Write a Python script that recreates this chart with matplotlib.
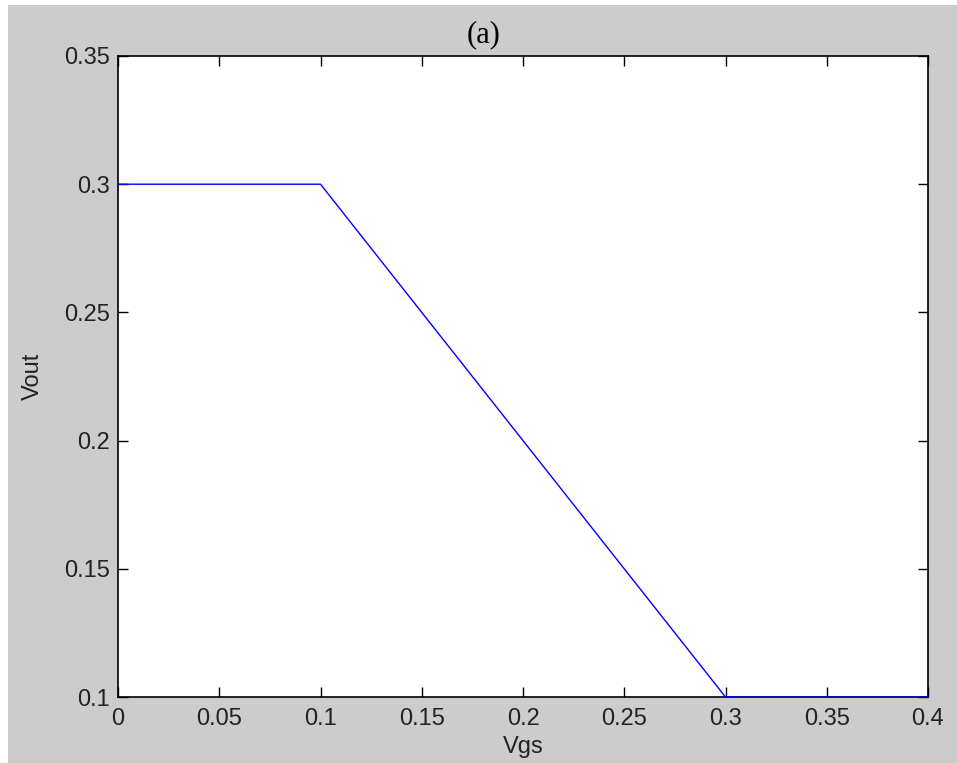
import numpy as np
import matplotlib
matplotlib.use("Agg")
import matplotlib.pyplot as plt
from matplotlib.patches import Rectangle

# Vout vs Vgs transfer curve (piecewise linear)
vgs = [0.0, 0.1, 0.3, 0.4]
vout = [0.3, 0.3, 0.1, 0.1]

xticks = [0, 0.05, 0.1, 0.15, 0.2, 0.25, 0.3, 0.35, 0.4]
xticklabels = ["0", "0.05", "0.1", "0.15", "0.2", "0.25", "0.3", "0.35", "0.4"]
yticks = [0.1, 0.15, 0.2, 0.25, 0.3, 0.35]
yticklabels = ["0.1", "0.15", "0.2", "0.25", "0.3", "0.35"]

W, H = 957, 763
fig = plt.figure(figsize=(W / 100, H / 100), dpi=100, facecolor="#cccccc")

# thin white margin on top and left
fig.patches.append(Rectangle((0, 1 - 5 / H), 1, 5 / H, transform=fig.transFigure,
                             facecolor="white", edgecolor="none", zorder=0))
fig.patches.append(Rectangle((0, 0), 8 / W, 1, transform=fig.transFigure,
                             facecolor="white", edgecolor="none", zorder=0))

ax = fig.add_axes([118 / W, 66 / H, 810 / W, 641 / H])
ax.set_facecolor("white")
ax.plot(vgs, vout, color="#0000ff", linewidth=1.0, clip_on=False, zorder=5)

ax.set_xlim(0, 0.4)
ax.set_ylim(0.1, 0.35)
ax.set_xticks(xticks)
ax.set_xticklabels(xticklabels)
ax.set_yticks(yticks)
ax.set_yticklabels(yticklabels)

sans = ["Liberation Sans", "DejaVu Sans"]
for lab in ax.get_xticklabels() + ax.get_yticklabels():
    lab.set_fontfamily(sans)
    lab.set_fontsize(17)
    lab.set_color("#222222")

ax.tick_params(direction="in", length=7, width=1.0, color="black",
               top=True, right=True)
ax.tick_params(axis="x", pad=8)
ax.tick_params(axis="y", pad=6)
for sp in ax.spines.values():
    sp.set_linewidth(1.2)
    sp.set_color("black")

ax.set_xlabel("Vgs", fontfamily=sans, fontsize=17, color="#222222", labelpad=4)
ax.set_ylabel("Vout", fontfamily=sans, fontsize=17, color="#222222", labelpad=14)

fig.text(484 / W, 1 - 35 / H, "(a)", ha="center", va="center",
         fontfamily=["Liberation Serif", "DejaVu Serif"], fontsize=22, color="black")

fig.savefig("out.png", dpi=100, facecolor=fig.get_facecolor())
